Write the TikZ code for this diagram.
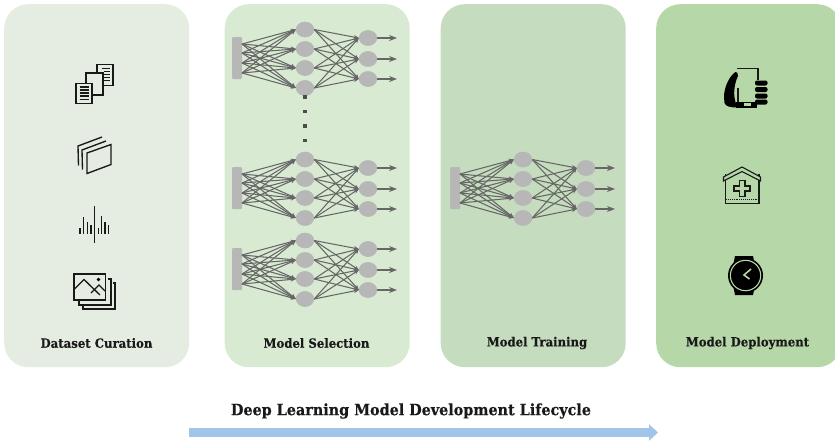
\documentclass[tikz,border=0pt]{standalone}
\usepackage{fontspec}
\setmainfont[FakeStretch=0.92,BoldFeatures={FakeBold=0.3}]{DejaVu Serif}
\usetikzlibrary{arrows.meta,shapes.geometric}
\definecolor{panelA}{HTML}{E5EDE3}
\definecolor{panelB}{HTML}{D9EAD3}
\definecolor{panelC}{HTML}{C5DCBE}
\definecolor{panelD}{HTML}{B6D7A8}
\definecolor{nodegray}{HTML}{B7B7B7}
\definecolor{edgegray}{HTML}{666666}
\definecolor{flowblue}{HTML}{9FC5E8}
\tikzset{
  panel/.style={rounded corners=24pt,inner sep=0pt,minimum width=185pt,minimum height=363pt,anchor=north west},
  neuron/.style={ellipse,fill=nodegray,minimum width=18pt,minimum height=15.5pt,inner sep=0pt},
  inputbar/.style={fill=nodegray,rounded corners=1pt,minimum width=10pt,minimum height=42pt,inner sep=0pt},
  edge/.style={draw=edgegray,line width=1.05pt,-{Stealth[length=5pt,width=4.2pt]}},
  outedge/.style={draw=edgegray,line width=1.3pt,-{Stealth[length=8pt,width=6pt]}},
  dotmark/.style={fill=black!70,minimum size=3.6pt,inner sep=0pt},
  caption/.style={font=\bfseries\fontsize{12.7}{14}\selectfont,text=black!90,inner sep=0pt},
  title/.style={font=\bfseries\fontsize{15.6}{18}\selectfont,text=black!90,inner sep=0pt},
  icon/.style={line width=1.35pt,draw=black!90,line join=miter},
}
\newcommand{\nnet}[3]{% prefix, bar x, bar centre y
  \begin{scope}[shift={(#2,#3)}]
    \node[inputbar] (#1b) at (5,0) {};
    \foreach \k/\yy in {1/-28.5,2/-9,3/10,4/30}{\node[neuron] (#1h\k) at (73,\yy) {};}
    \foreach \k/\yy in {1/-20,2/1,3/21}{\node[neuron] (#1o\k) at (136,\yy) {};\coordinate (#1e\k) at (165,\yy);}
    \foreach \k/\yy in {1/-14,2/-5,3/5,4/15}{\coordinate (#1s\k) at (10,\yy);}
    \foreach \i in {1,2,3,4}{\foreach \j in {1,2,3,4}{\draw[edge] (#1s\i) -- (#1h\j.west);}}
    \foreach \i in {1,2,3,4}{\foreach \j in {1,2,3}{\draw[edge] (#1h\i.east) -- (#1o\j.west);}}
    \foreach \k in {1,2,3}{\draw[outedge] (#1o\k.east) -- (#1e\k);}
    \foreach \k in {1,2,3,4}{\node[neuron] at (#1h\k) {};}
    \foreach \k in {1,2,3}{\node[neuron] at (#1o\k) {};}
  \end{scope}}
\begin{document}
\begin{tikzpicture}[x=1pt,y=-1pt]
\useasboundingbox (0,0) rectangle (835,442);
\begin{scope}
\clip (0,0) rectangle (835,442);
\node[panel,fill=panelA] (pa) at (4,4) {};
\node[panel,fill=panelB] (pb) at (224.5,4) {};
\node[panel,fill=panelC] (pc) at (440.5,4) {};
\node[panel,fill=panelD] (pd) at (656,4) {};
\end{scope}
\node[caption] (ca) at (96.5,343) {Dataset Curation};
\node[caption] (cb) at (316.5,343) {Model Selection};
\node[caption] (cc) at (537,343) {Model Training};
\node[caption] (cd) at (747.5,343) {Model Deployment};
\nnet{a}{232}{58}
\nnet{b}{232}{188}
\nnet{c}{232}{269}
\nnet{d}{450}{188}
\foreach \k/\yy in {1/97,2/111.5,3/126,4/140.5}{\node[dotmark] (dot\k) at (305,\yy) {};}
% documents icon
\begin{scope}[icon]
\draw (97,73) -- (97,64.5) -- (113,64.5) -- (113,85.5) -- (103,85.5);
\draw[line width=1.2pt] (102,68.5)--(110,68.5) (104,71.5)--(110,71.5) (104,74.5)--(110,74.5) (104,77.5)--(110,77.5) (104,80.5)--(110,80.5);
\draw (86,83) -- (86,73) -- (103,73) -- (103,95) -- (92,95);
\draw[fill=panelA] (76,83.5) rectangle (92,103.5);
\draw[line width=1.2pt] (79.5,87)--(88.5,87) (79.5,90)--(88.5,90) (79.5,93)--(88.5,93) (79.5,96)--(88.5,96) (79.5,99.5)--(88.5,99.5);
% stacked sheets icon
\draw (78.5,165.5) -- (78,146) -- (102,137);
\draw (82.5,169.5) -- (82,150) -- (106,141);
\draw (87,173.5) -- (87,153) -- (111,144.5) -- (111,164.5) -- cycle;
% audio icon
\draw[line width=1.2pt] (94.4,206)--(94.4,243);
\foreach \x/\a in {80/228,83.5/217,87.5/222,91/225,98.5/228,101.7/216,104.9/222,108.7/225}{\draw[line width=1.5pt] (\x,\a)--(\x,234);}
% picture icon
\draw (108,279) -- (111,279) -- (111,305) -- (79,305) -- (79,301);
\draw (113,283) -- (115,283) -- (115,309) -- (83,309) -- (83,306);
\draw[line width=1.5pt,fill=panelA] (74,274) rectangle (105.5,300);
\draw (74.5,289) -- (84,279.5) -- (100,295);
\draw (91,293) -- (99,285) -- (105,291);
\fill[black] (98.5,279.5) circle (1.8);
% phone in hand
\draw[line width=1.3pt] (737,68.5) -- (758,68.5) -- (758,80);
\draw[line width=1.3pt] (738,88) -- (738,103);
\fill[black] (736,101.5) rectangle (757,107.5);
\fill[panelD] (743.5,103.2) rectangle (750.5,105.6);
\fill[black] (735.5,72) .. controls (729,76) and (724,88) .. (724,97) -- (724.5,103) .. controls (726,106.5) and (730,107.5) .. (737,107.5) -- (735,100) .. controls (733,92) and (735,82) .. (738,76) .. controls (738,73) and (737,72) .. (735.5,72) -- cycle;
\foreach \yy in {83,89.5,96,102}{\fill[black,rounded corners=2pt] (755,\yy-2.5) rectangle (767.5,\yy+2.5);}
% clinic
\draw[line width=1.1pt,fill=panelD] (725.5,174) -- (725.5,203.5) -- (759,203.5) -- (759,174);
\draw[line width=1.1pt,fill=panelD] (723.5,181) -- (723.5,177) -- (742,167) -- (760.5,177) -- (760.5,181) -- (742,171.5) -- cycle;
\draw[line width=1.1pt] (739.5,180.5) -- (745,180.5) -- (745,186) -- (750,186) -- (750,191) -- (745,191) -- (745,196.5) -- (739.5,196.5) -- (739.5,191) -- (734,191) -- (734,186) -- (739.5,186) -- cycle;
\draw[line width=.9pt,densely dotted] (726,199.5) -- (758,199.5);
% watch
\fill[black] (735,256) -- (753,256) -- (755,266) -- (733,266) -- cycle;
\fill[black] (733,285) -- (755,285) -- (753,295) -- (735,295) -- cycle;
\fill[black,rounded corners=.5pt] (760,272.5) rectangle (762.5,277.5);
\fill[black] (745.5,275.5) circle (17.5);
\draw[panelD,line width=1.1pt] (745.5,275.5) circle (15.2);
\draw[panelD,line width=1.6pt] (751,269) -- (744,275) -- (749.5,279);
\end{scope}
\node[title] (ttl) at (411,411) {Deep Learning Model Development Lifecycle};
\coordinate (fa) at (189,432.5);
\coordinate (fb) at (658,432.5);
\draw[flowblue,line width=9pt,-{Triangle[length=9pt,width=16pt]}] (fa) -- (fb);
\end{tikzpicture}
\end{document}
